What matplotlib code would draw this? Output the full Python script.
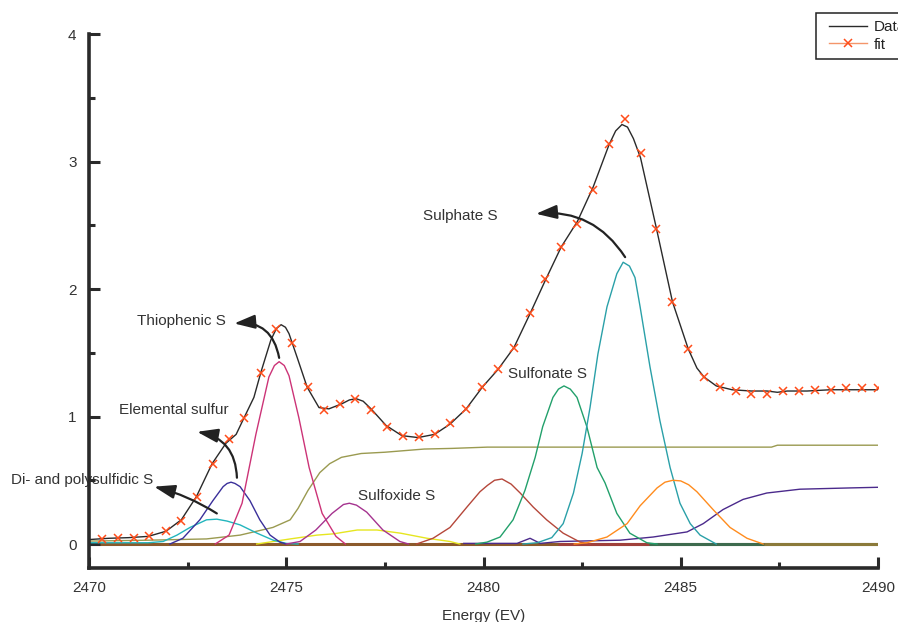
import matplotlib
matplotlib.use("Agg")
import matplotlib.pyplot as plt
from matplotlib.ticker import MultipleLocator
from matplotlib.lines import Line2D
from matplotlib.legend_handler import HandlerLine2D

plt.rcParams['font.family'] = ['Liberation Sans', 'DejaVu Sans']

# ---------------- data ----------------
fit_e = [2470.33, 2470.73, 2471.13, 2471.53, 2471.94, 2472.34, 2472.74, 2473.14, 2473.54, 2473.94,
         2474.35, 2474.75, 2475.15, 2475.55, 2475.95, 2476.35, 2476.75, 2477.16, 2477.56, 2477.96,
         2478.36, 2478.76, 2479.16, 2479.56, 2479.97, 2480.37, 2480.77, 2481.17, 2481.57, 2481.97,
         2482.38, 2482.78, 2483.18, 2483.58, 2483.98, 2484.38, 2484.79, 2485.19, 2485.59, 2485.99,
         2486.39, 2486.79, 2487.19, 2487.60, 2488.00, 2488.40, 2488.80, 2489.20, 2489.60, 2490.00]
fit_i = [0.04, 0.047, 0.047, 0.06, 0.10, 0.18, 0.37, 0.63, 0.82, 0.99,
         1.34, 1.69, 1.58, 1.23, 1.05, 1.10, 1.14, 1.05, 0.92, 0.85,
         0.84, 0.86, 0.95, 1.06, 1.23, 1.37, 1.54, 1.81, 2.08, 2.33,
         2.51, 2.78, 3.14, 3.33, 3.07, 2.47, 1.90, 1.53, 1.31, 1.23,
         1.20, 1.18, 1.18, 1.20, 1.20, 1.21, 1.21, 1.22, 1.22, 1.22]

data_e = [2470.0, 2470.5, 2471.0, 2471.5, 2471.95, 2472.34, 2472.72, 2473.12, 2473.47, 2473.73,
          2473.93, 2474.18, 2474.36, 2474.61, 2474.75, 2474.87, 2474.98, 2475.07, 2475.28, 2475.53,
          2475.83, 2476.08, 2476.41, 2476.6, 2476.77, 2476.95, 2477.15, 2477.53, 2477.93, 2478.34,
          2478.76, 2479.15, 2479.56, 2479.97, 2480.37, 2480.77, 2481.17, 2481.57, 2481.97, 2482.38,
          2482.78, 2483.18, 2483.35, 2483.51, 2483.65, 2483.8, 2483.98, 2484.38, 2484.79, 2485.19,
          2485.41, 2485.59, 2485.9, 2486.3, 2486.79, 2487.19, 2487.45, 2487.7, 2488.2, 2488.8, 2490.0]
data_i = [0.035, 0.045, 0.05, 0.06, 0.10, 0.19, 0.37, 0.63, 0.79, 0.86,
          0.99, 1.15, 1.35, 1.60, 1.69, 1.72, 1.70, 1.65, 1.46, 1.23,
          1.07, 1.06, 1.10, 1.13, 1.14, 1.12, 1.06, 0.93, 0.85, 0.835,
          0.86, 0.94, 1.06, 1.23, 1.37, 1.54, 1.80, 2.07, 2.33, 2.53,
          2.80, 3.13, 3.24, 3.29, 3.27, 3.18, 3.03, 2.48, 1.90, 1.53,
          1.38, 1.31, 1.24, 1.21, 1.20, 1.20, 1.19, 1.20, 1.20, 1.21, 1.21]

poly_e = [2470.0, 2471.5, 2471.88, 2472.23, 2472.56, 2472.98, 2473.24, 2473.5, 2473.83, 2474.26, 2474.67, 2475.0, 2475.3]
poly_i = [0.01, 0.01, 0.02, 0.07, 0.13, 0.19, 0.195, 0.18, 0.15, 0.085, 0.03, 0.005, 0.0]

elem_e = [2472.05, 2472.38, 2472.81, 2473.14, 2473.4, 2473.5, 2473.6, 2473.7, 2473.83, 2474.08, 2474.33, 2474.59, 2474.84, 2475.0]
elem_i = [0.0, 0.045, 0.19, 0.34, 0.45, 0.475, 0.485, 0.475, 0.45, 0.34, 0.19, 0.07, 0.015, 0.0]

thio_e = [2473.2, 2473.55, 2473.88, 2474.23, 2474.56, 2474.7, 2474.82, 2474.95, 2475.07, 2475.32, 2475.58, 2475.91, 2476.26, 2476.5]
thio_i = [0.0, 0.07, 0.32, 0.86, 1.31, 1.40, 1.43, 1.40, 1.32, 0.99, 0.60, 0.24, 0.06, 0.0]

step1_e = [2470.0, 2471.5, 2472.98, 2473.83, 2474.66, 2475.1, 2475.3, 2475.55, 2475.85, 2476.1,
           2476.4, 2476.9, 2477.5, 2478.5, 2479.2, 2480.1, 2487.3, 2487.45, 2490.0]
step1_i = [0.023, 0.03, 0.04, 0.07, 0.13, 0.19, 0.28, 0.42, 0.56, 0.63,
           0.68, 0.71, 0.72, 0.745, 0.75, 0.76, 0.76, 0.775, 0.775]

sulfox_e = [2475.0, 2475.35, 2475.75, 2476.16, 2476.45, 2476.6, 2476.78, 2477.04, 2477.45, 2477.88, 2478.1]
sulfox_i = [0.0, 0.02, 0.11, 0.24, 0.31, 0.32, 0.305, 0.25, 0.11, 0.02, 0.0]

yel_e = [2474.25, 2475.1, 2475.78, 2476.2, 2476.8, 2477.3, 2477.9, 2478.57, 2479.15, 2479.4]
yel_i = [0.0, 0.04, 0.07, 0.08, 0.11, 0.11, 0.085, 0.045, 0.02, 0.0]

red_e = [2478.3, 2478.72, 2479.15, 2479.58, 2479.91, 2480.1, 2480.28, 2480.47, 2480.7, 2480.93, 2481.26, 2481.6, 2482.02, 2482.45, 2482.7]
red_i = [0.0, 0.045, 0.13, 0.29, 0.41, 0.46, 0.50, 0.51, 0.47, 0.40, 0.29, 0.19, 0.085, 0.015, 0.0]

sulfon_e = [2479.8, 2480.09, 2480.42, 2480.75, 2481.05, 2481.31, 2481.5, 2481.76, 2481.9, 2482.04, 2482.2, 2482.37,
            2482.62, 2482.88, 2483.08, 2483.38, 2483.71, 2484.14, 2484.4]
sulfon_i = [0.0, 0.015, 0.055, 0.19, 0.42, 0.68, 0.92, 1.15, 1.215, 1.24, 1.215, 1.15,
            0.92, 0.60, 0.48, 0.24, 0.085, 0.01, 0.0]

sulph_e = [2481.0, 2481.36, 2481.73, 2482.02, 2482.28, 2482.5, 2482.7, 2482.9, 2483.13, 2483.38,
           2483.54, 2483.7, 2483.84, 2483.97, 2484.22, 2484.47, 2484.73, 2484.98, 2485.24, 2485.49, 2485.9]
sulph_i = [0.0, 0.01, 0.05, 0.16, 0.40, 0.71, 1.07, 1.49, 1.86, 2.12,
           2.21, 2.18, 2.09, 1.86, 1.39, 0.97, 0.60, 0.32, 0.16, 0.07, 0.0]

orng_e = [2482.3, 2482.62, 2483.13, 2483.64, 2483.97, 2484.4, 2484.6, 2484.8, 2485.0, 2485.2, 2485.41, 2485.82, 2486.25, 2486.68, 2487.09]
orng_i = [0.0, 0.01, 0.055, 0.16, 0.30, 0.44, 0.485, 0.50, 0.495, 0.465, 0.41, 0.27, 0.13, 0.045, 0.0]

step2_e = [2479.5, 2480.85, 2481.18, 2481.44, 2481.94, 2483.46, 2484.3, 2485.16, 2485.57, 2486.07,
           2486.58, 2487.18, 2488.02, 2489.29, 2490.0]
step2_i = [0.005, 0.005, 0.045, 0.005, 0.02, 0.03, 0.055, 0.095, 0.16, 0.27,
           0.35, 0.40, 0.43, 0.44, 0.445]

# baseline segments (start, end) with colours
base_segments = [(2470.0, 2490.0), (2481.9, 2484.2), (2484.2, 2487.1), (2487.1, 2490.0)]
base_colors = ['#8b5a2b', '#a0403a', '#3e6b4e', '#8b7a3a']

# annotation labels: text, text position, arrow start, arrow tip, curvature
labels = ["Thiophenic S", "Elemental sulfur", "Di- and polysulfidic S", "Sulfoxide S", "Sulfonate S", "Sulphate S"]
label_pos = [(2471.22, 1.75), (2470.76, 1.05), (2468.02, 0.50), (2476.82, 0.376), (2480.62, 1.33), (2478.47, 2.57)]
arrow_start = [(2474.82, 1.46), (2473.75, 0.52), (2473.24, 0.24), None, None, (2483.59, 2.25)]
arrow_tip = [(2473.68, 1.73), (2472.74, 0.88), (2471.65, 0.45), None, None, (2481.33, 2.59)]
arrow_rad = [0.45, 0.4, 0.08, 0, 0, 0.3]

# ---------------- figure ----------------
fig = plt.figure(figsize=(8.98, 6.22), dpi=100)
ax = fig.add_axes([89/898, 1-568/622, (878-89)/898, (568-34)/622])

for (a, b), c in zip(base_segments, base_colors):
    ax.plot([a, b], [0, 0], color=c, lw=2.2, solid_capstyle='butt', zorder=1.5)

comp_lw = 1.0
ax.plot(step1_e, step1_i, color='#9a9a50', lw=comp_lw, zorder=2)
ax.plot(step2_e, step2_i, color='#4b2a8c', lw=comp_lw, zorder=2)
ax.plot(yel_e, yel_i, color='#e6e620', lw=comp_lw, zorder=2)
ax.plot(poly_e, poly_i, color='#22b5bd', lw=comp_lw, zorder=2)
ax.plot(elem_e, elem_i, color='#3a2f9a', lw=comp_lw, zorder=2)
ax.plot(thio_e, thio_i, color='#cc3377', lw=comp_lw, zorder=2)
ax.plot(sulfox_e, sulfox_i, color='#a5338f', lw=comp_lw, zorder=2)
ax.plot(red_e, red_i, color='#b5473a', lw=comp_lw, zorder=2)
ax.plot(sulfon_e, sulfon_i, color='#22a06b', lw=comp_lw, zorder=2)
ax.plot(sulph_e, sulph_i, color='#2aa0a8', lw=comp_lw, zorder=2)
ax.plot(orng_e, orng_i, color='#ff8c1e', lw=comp_lw, zorder=2)

data_line, = ax.plot(data_e, data_i, color='#2a2a2a', lw=1.0, zorder=3.5, label='Data')
ax.plot(fit_e, fit_i, linestyle='none', marker='x', markersize=6, markeredgewidth=1.1,
        markeredgecolor='#ff4d1a', zorder=4)
fit_handle = Line2D([], [], color='#f4956a', lw=1.0, marker='x', markersize=6,
                    markeredgewidth=1.1, markeredgecolor='#ff4d1a', label='fit')

for txt, pos, st, tp, rad in zip(labels, label_pos, arrow_start, arrow_tip, arrow_rad):
    ax.text(pos[0], pos[1], txt, ha='left', va='center', fontsize=11, color='#333333', zorder=2.2)
    if st is not None:
        ax.annotate('', xy=tp, xytext=st,
                    arrowprops=dict(arrowstyle='-|>,head_length=0.9,head_width=0.3',
                                    connectionstyle=f'arc3,rad={rad}', color='#222222',
                                    lw=1.6, shrinkA=0, shrinkB=0, mutation_scale=14),
                    zorder=5)

ax.set_xlim(2470, 2490)
ax.set_ylim(-0.188, 4.0)
ax.spines['top'].set_visible(False)
ax.spines['right'].set_visible(False)
for s in ('left', 'bottom'):
    ax.spines[s].set_linewidth(2.6)
    ax.spines[s].set_color('#2a2a2a')

ax.xaxis.set_major_locator(MultipleLocator(5))
ax.xaxis.set_minor_locator(MultipleLocator(2.5))
ax.yaxis.set_major_locator(MultipleLocator(1))
ax.yaxis.set_minor_locator(MultipleLocator(0.5))
ax.tick_params(which='both', direction='in', width=2.2, color='#2a2a2a',
               labelsize=11, labelcolor='#333333')
ax.tick_params(which='major', length=8)
ax.tick_params(which='minor', length=4.5)
ax.tick_params(axis='y', which='major', pad=9)
ax.tick_params(axis='x', which='major', pad=9.5)

ax.set_xlabel('Energy (EV)', fontsize=11, color='#333333', labelpad=10)

hmap = {data_line: HandlerLine2D(xpad=0.4), fit_handle: HandlerLine2D(xpad=0.4)}
leg = ax.legend(handles=[data_line, fit_handle], loc='upper left',
                bbox_to_anchor=(816/898, 1-13/622), bbox_transform=fig.transFigure,
                borderaxespad=0, fontsize=11, frameon=True, fancybox=False,
                edgecolor='#222222', framealpha=1, handlelength=2.9, handletextpad=0.4,
                labelspacing=0.25, borderpad=0.45, numpoints=1, handler_map=hmap)
leg.get_frame().set_linewidth(1.1)
for t in leg.get_texts():
    t.set_color('#222222')

fig.savefig('out.png', dpi=100)
